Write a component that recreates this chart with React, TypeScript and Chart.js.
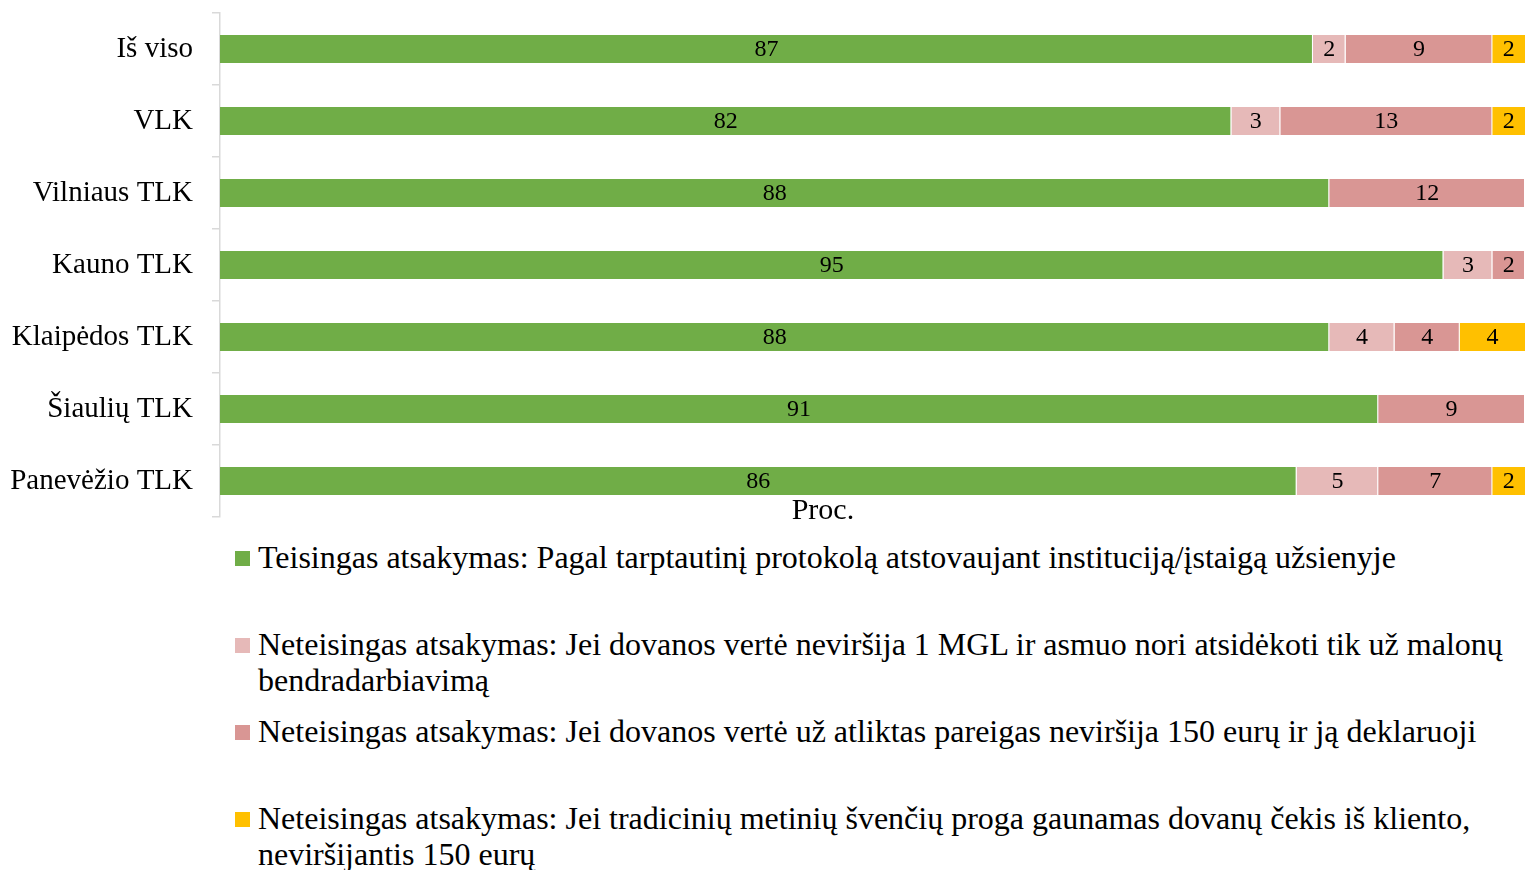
import React, { useEffect, useRef } from "react";
import { Chart, registerables } from "chart.js";

Chart.register(...registerables);

const categories = [
  "Iš viso",
  "VLK",
  "Vilniaus TLK",
  "Kauno TLK",
  "Klaipėdos TLK",
  "Šiaulių TLK",
  "Panevėžio TLK",
];

const seriesNames = [
  "Teisingas atsakymas: Pagal tarptautinį protokolą atstovaujant instituciją/įstaigą užsienyje",
  "Neteisingas atsakymas: Jei dovanos vertė neviršija 1 MGL ir asmuo nori atsidėkoti tik už malonų bendradarbiavimą",
  "Neteisingas atsakymas: Jei dovanos vertė už atliktas pareigas neviršija 150 eurų ir ją deklaruoji",
  "Neteisingas atsakymas: Jei tradicinių metinių švenčių proga gaunamas dovanų čekis iš kliento, neviršijantis 150 eurų",
];

const correctAnswer = [87, 82, 88, 95, 88, 91, 86];
const wrongMgl = [2, 3, 0, 3, 4, 0, 5];
const wrong150Declared = [9, 13, 12, 2, 4, 9, 7];
const wrongVoucher = [2, 2, 0, 0, 4, 0, 2];

const seriesColors = ["#70AD47", "#E6B9B8", "#D99694", "#FFC000"];

const axisMin = 20;
const axisMax = 100;
const axisTitle = "Proc.";

const FONT = '"Liberation Serif", "Times New Roman", serif';

const segmentLabels = {
  id: "segmentLabels",
  afterDatasetsDraw(chart: any) {
    const ctx = chart.ctx;
    const area = chart.chartArea;
    ctx.save();
    ctx.fillStyle = "#000";
    ctx.textAlign = "center";
    ctx.textBaseline = "middle";
    ctx.font = `24px ${FONT}`;
    chart.data.datasets.forEach((ds: any, i: number) => {
      const meta = chart.getDatasetMeta(i);
      meta.data.forEach((el: any, j: number) => {
        const v = ds.data[j];
        if (!v) return;
        const p = el.getProps(["x", "y", "base"], true);
        const l = Math.max(Math.min(p.x, p.base), area.left);
        const r = Math.min(Math.max(p.x, p.base), area.right);
        ctx.fillText(String(v), (l + r) / 2, p.y + 1);
      });
    });
    ctx.font = `30px ${FONT}`;
    ctx.fillText(axisTitle, area.left + (area.right - area.left) * 0.462, area.bottom - 6);
    ctx.restore();
  },
};

export default function App() {
  const ref = useRef<HTMLCanvasElement | null>(null);

  useEffect(() => {
    if (!ref.current) return;
    const values = [correctAnswer, wrongMgl, wrong150Declared, wrongVoucher];
    const chart = new Chart(ref.current, {
      type: "bar",
      data: {
        labels: categories,
        datasets: values.map((d, i) => ({
          label: seriesNames[i],
          data: d,
          backgroundColor: seriesColors[i],
          borderColor: "#FFFFFF",
          borderWidth: { top: 0, bottom: 0, left: 0, right: i < values.length - 1 ? 1 : 0 },
          borderSkipped: false,
          barPercentage: 0.39,
          categoryPercentage: 1,
        })),
      },
      options: {
        indexAxis: "y",
        responsive: false,
        animation: false,
        layout: { padding: { top: 13, bottom: 13, left: 0, right: 0 } },
        plugins: {
          legend: { display: false },
          tooltip: { enabled: false },
        },
        scales: {
          x: {
            stacked: true,
            display: false,
            min: axisMin,
            max: axisMax,
          },
          y: {
            stacked: true,
            afterFit: (scale: any) => {
              scale.width = 220;
              scale.paddingTop = 0;
              scale.paddingBottom = 0;
            },
            grid: {
              offset: true,
              drawOnChartArea: false,
              drawTicks: true,
              tickLength: 8,
              color: "#D9D9D9",
              lineWidth: 1.5,
            },
            border: { display: true, color: "#D9D9D9", width: 1.5 },
            ticks: {
              padding: 19,
              color: "#000",
              font: { family: FONT, size: 29 },
            },
          },
        },
      },
      plugins: [segmentLabels],
    });
    return () => chart.destroy();
  }, []);

  const legendTop = 539;
  const legendStep = 87;

  return (
    <div
      style={{
        position: "fixed",
        left: 0,
        top: 0,
        width: 1525,
        height: 870,
        background: "#fff",
        overflow: "hidden",
        fontFamily: FONT,
      }}
    >
      <canvas ref={ref} width={1525} height={530} style={{ position: "absolute", left: 0, top: 0 }} />
      {seriesNames.map((name, i) => (
        <div key={i} style={{ position: "absolute", left: 0, top: legendTop + i * legendStep, width: 1525 }}>
          <div
            style={{
              position: "absolute",
              left: 235,
              top: 12,
              width: 15,
              height: 15,
              background: seriesColors[i],
            }}
          />
          <div
            style={{
              position: "absolute",
              left: 258,
              top: 0,
              width: 1262,
              fontSize: 32,
              lineHeight: "36px",
              color: "#000",
              whiteSpace: "normal",
            }}
          >
            {name}
          </div>
        </div>
      ))}
    </div>
  );
}
